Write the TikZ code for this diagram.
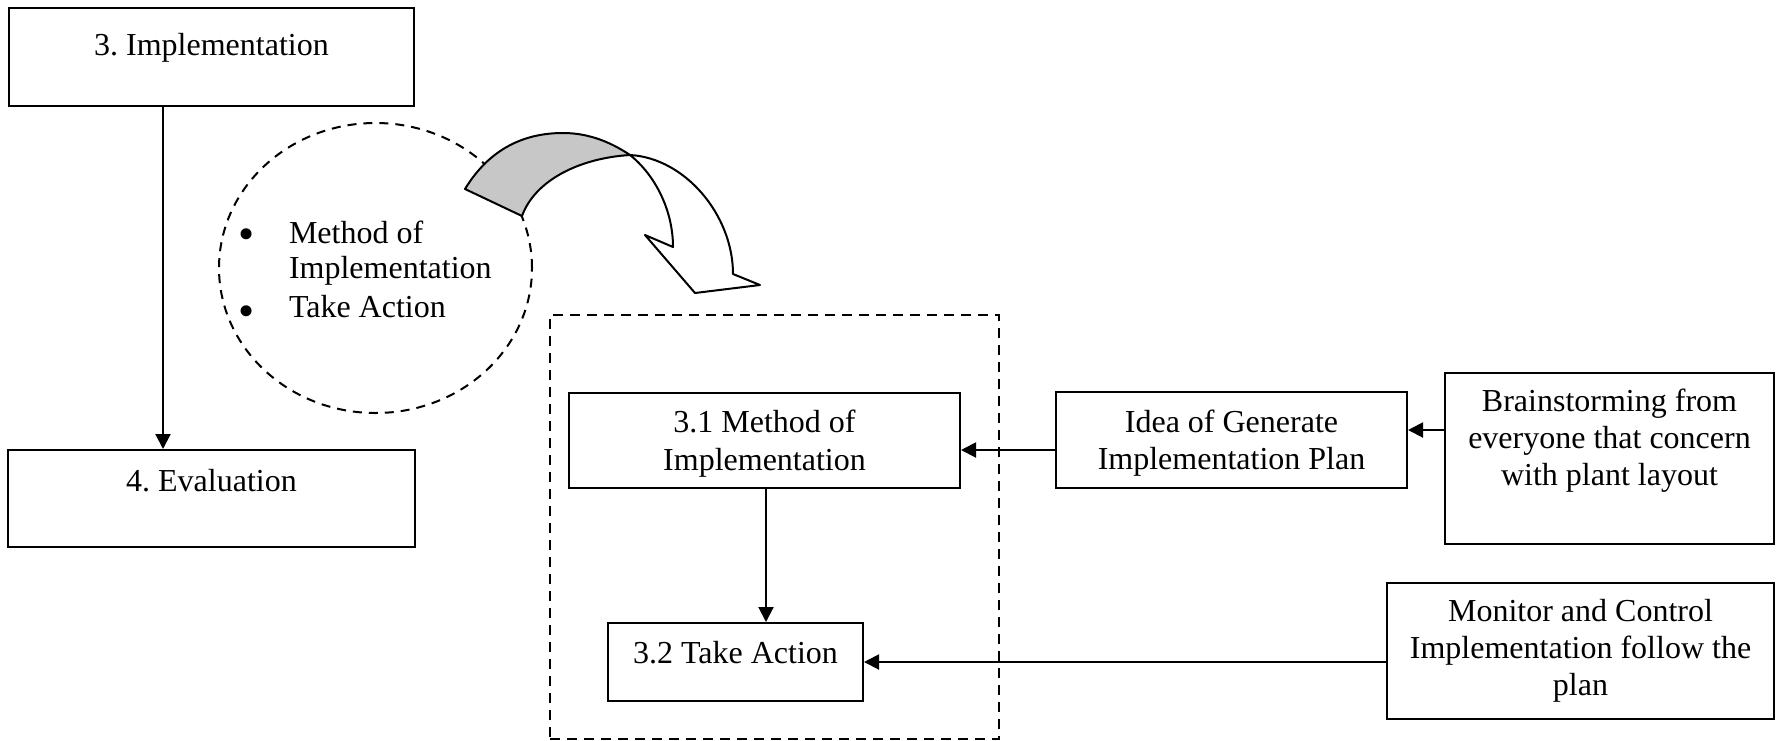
\documentclass[tikz,border=0pt]{standalone}
\usepackage{fontspec}
\setmainfont{Liberation Serif}
\usetikzlibrary{arrows.meta,calc,shapes.geometric}
\frenchspacing

\begin{document}
\begin{tikzpicture}[x=1pt,y=-1pt,
  line width=2pt,
  box/.style={draw, rectangle, inner sep=0pt, line width=2pt},
  txt/.style={font=\fontsize{32}{37}\selectfont, inner sep=0pt, align=center, anchor=base},
  dot/.style={font=\fontsize{46}{46}\selectfont, inner sep=0pt, anchor=base},
  link/.style={-{Triangle[length=15pt,width=15pt]}, line width=2pt},
  dashline/.style={dash pattern=on 10pt off 7pt, line width=2pt},
  ribbon/.style={line width=2pt, line join=round},
]
\useasboundingbox (0,0) rectangle (1776,740);

% main phases
\node[box, minimum width=405pt, minimum height=98pt] (impl) at (211.5,57) {};
\node[box, minimum width=407pt, minimum height=97pt] (eval) at (211.5,498.5) {};
\node[txt] (t-impl) at (211.5,55) {3. Implementation};
\node[txt] (t-eval) at (211.5,491) {4. Evaluation};
\coordinate (mainx) at (163,0);
\draw[link] (impl.south -| mainx) -- (eval.north -| mainx);

% summary bubble (multi-line texts are anchored at the last baseline)
\node[draw, ellipse, dash pattern=on 9pt off 7pt, line width=2pt,
      minimum width=313pt, minimum height=290pt, inner sep=0pt] (note) at (375.5,268) {};
\node[dot] (d1) at (247,249) {•};
\node[dot] (d2) at (247,326) {•};
\node[txt, anchor=base west, align=left, font=\fontsize{32}{35}\selectfont] (t-b1) at (288,278) {Method of\\Implementation};
\node[txt, anchor=base west] (t-b2) at (288,317) {Take Action};

% curved block arrow
\coordinate (X) at (630,155);
\filldraw[ribbon, fill=black!22]
  (465,189) .. controls (490,148) and (525,133) .. (563,133)
  .. controls (590,133) and (612,143) .. (X)
  .. controls (580,158) and (535,180) .. (522,216) -- cycle;
\filldraw[ribbon, fill=white]
  (X) .. controls (655,175) and (673,210) .. (673,247)
  -- (645,235) -- (695,293) -- (760,285) -- (733,274)
  .. controls (733,215) and (685,158) .. (X);

% sub-steps of the implementation phase
\node[box, dashline, minimum width=449pt, minimum height=424pt] (grp) at (774.5,527) {};
\node[box, minimum width=391pt, minimum height=95pt] (m31) at (764.5,440.5) {};
\node[box, minimum width=255pt, minimum height=78pt] (m32) at (735.5,662) {};
\node[txt, font=\fontsize{32}{38}\selectfont] (t-m31) at (764.5,470) {3.1 Method of\\Implementation};
\node[txt] (t-m32) at (735.5,663) {3.2 Take Action};
\coordinate (subx) at (766,0);
\draw[link] (m31.south -| subx) -- (m32.north -| subx);

% inputs
\node[box, minimum width=351pt, minimum height=96pt] (idea) at (1231.5,440) {};
\node[box, minimum width=329pt, minimum height=171pt] (brain) at (1609.5,458.5) {};
\node[box, minimum width=387pt, minimum height=136pt] (mon) at (1580.5,651) {};
\node[txt] (t-idea) at (1231.5,469) {Idea of Generate\\Implementation Plan};
\node[txt] (t-brain) at (1609.5,485) {Brainstorming from\\everyone that concern\\with plant layout};
\node[txt] (t-mon) at (1580.5,695) {Monitor and Control\\Implementation follow the\\plan};

\coordinate (ideay) at (0,450);
\coordinate (brainy) at (0,430);
\draw[link] (idea.west |- ideay) -- (m31.east |- ideay);
\draw[link] (brain.west |- brainy) -- (idea.east |- brainy);
\draw[link] (mon.west |- m32.east) -- (m32.east);
\end{tikzpicture}
\end{document}
